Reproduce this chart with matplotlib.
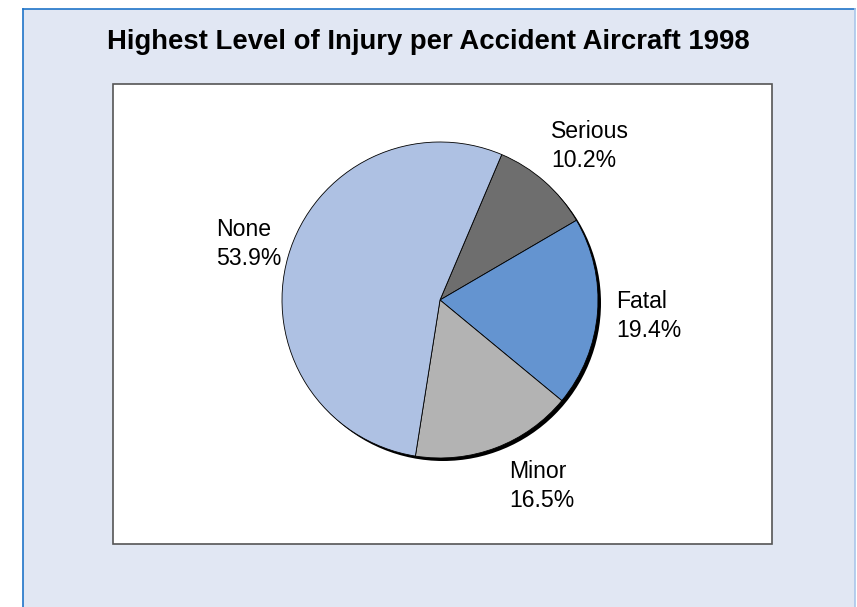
import matplotlib.pyplot as plt
from matplotlib.patches import Rectangle, Circle
from matplotlib.lines import Line2D

plt.rcParams['font.family'] = ['Liberation Sans', 'DejaVu Sans']

# data
categories = ['Serious', 'Fatal', 'Minor', 'None']
shares = [10.2, 19.4, 16.5, 53.9]
colors = ['#6e6e6e', '#6494d0', '#b3b3b3', '#aec1e3']
title = 'Highest Level of Injury per Accident Aircraft 1998'

W, H = 857, 607
fig = plt.figure(figsize=(W / 100, H / 100), dpi=100)
fig.patch.set_facecolor('white')


def fx(px):
    return px / W


def fy(py):
    return 1 - py / H


# outer chart area
fig.patches.append(Rectangle((fx(23), 0), fx(855) - fx(23), fy(9), transform=fig.transFigure,
                             facecolor='#e1e7f3', edgecolor='none', zorder=-2))
fig.add_artist(Line2D([fx(23), fx(23)], [0, fy(9)], color='#1f74c8', lw=1.2))
fig.add_artist(Line2D([fx(23), fx(855)], [fy(9), fy(9)], color='#1f74c8', lw=1.2))
fig.add_artist(Line2D([fx(855), fx(855)], [0, fy(9)], color='#a9c6ea', lw=1.2))

# plot area box
fig.patches.append(Rectangle((fx(113), fy(544)), fx(772) - fx(113), fy(84) - fy(544),
                             transform=fig.transFigure, facecolor='white',
                             edgecolor='#555555', lw=1.2, zorder=-1))

fig.text(fx(428), fy(42), title, ha='center', va='center', fontsize=19.8,
         fontweight='bold', color='black')

# pie axes: centre (440, 300) px, radius 158 px
cx, cy, r, half = 440, 300, 158, 175
ax = fig.add_axes([fx(cx - half), fy(cy + half), 2 * half / W, 2 * half / H])
ax.set_zorder(3)
ax.patch.set_visible(False)

off = 3.0 / r
ax.add_patch(Circle((off, -off), 1.0, facecolor='black', edgecolor='none', zorder=0))
wedges, _ = ax.pie(shares, colors=colors, startangle=67, counterclock=False,
                   wedgeprops=dict(edgecolor='black', linewidth=0.6))
for w in wedges:
    w.set_zorder(2)
ax.set_xlim(-half / r, half / r)
ax.set_ylim(-half / r, half / r)
ax.set_aspect('equal')
ax.axis('off')

# labels
label_pos = {'None': (216, 244), 'Serious': (551, 146), 'Fatal': (616, 316), 'Minor': (509, 486)}
for name, val in zip(categories, shares):
    px, py = label_pos[name]
    fig.text(fx(px), fy(py), f'{name}\n{val:.1f}%', ha='left', va='center',
             fontsize=16.6, linespacing=1.34, color='black')

fig.savefig('out.png', dpi=100)
